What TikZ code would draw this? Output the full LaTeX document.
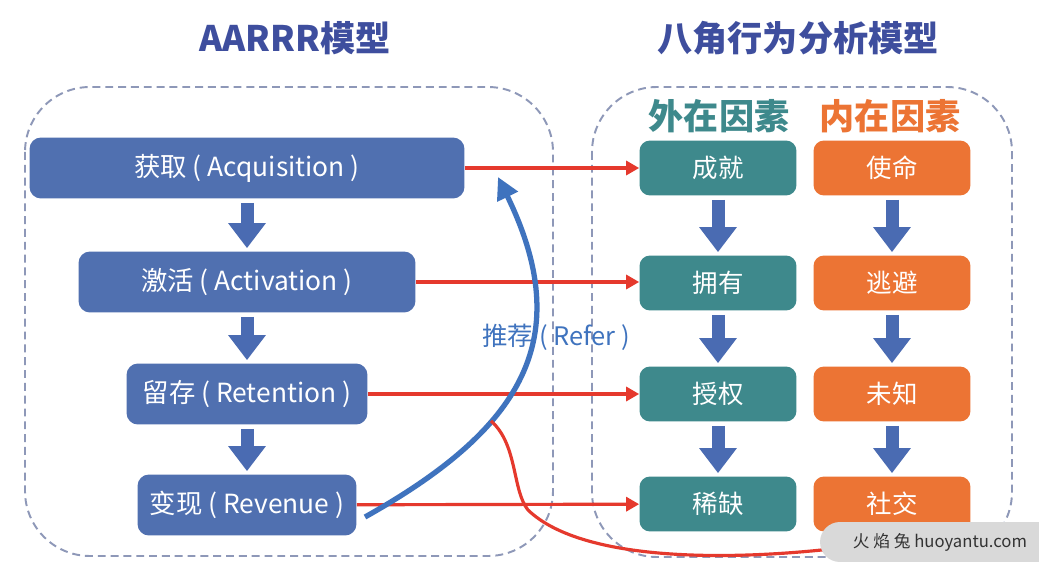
\documentclass[tikz,border=0pt]{standalone}
\usepackage{fontspec}
\setmainfont{Noto Sans CJK SC}
\usetikzlibrary{arrows.meta}
\definecolor{aablue}{HTML}{5070B0}
\definecolor{titleblue}{HTML}{3E4E9E}
\definecolor{extteal}{HTML}{3E898C}
\definecolor{intorange}{HTML}{EC7434}
\definecolor{flowblue}{HTML}{4A6BB2}
\definecolor{feedred}{HTML}{E5392D}
\definecolor{referblue}{HTML}{3F73BE}
\definecolor{framegray}{HTML}{8E98B8}
\tikzset{
  frame/.style={draw=framegray,line width=1.1pt,dash pattern=on 4.5pt off 2.8pt,rounded corners=1.3cm},
  title/.style={font=\fontsize{20}{24}\selectfont\bfseries,inner sep=0pt},
  aabox/.style={rectangle,rounded corners=6.5pt,fill=aablue,text=white,inner sep=0pt,minimum height=1.22cm,font=\fontsize{15}{18}\selectfont},
  factbox/.style={rectangle,rounded corners=6pt,text=white,inner sep=0pt,minimum width=3.14cm,minimum height=1.1cm,font=\fontsize{14.5}{17}\selectfont},
  extbox/.style={factbox,fill=extteal},
  intbox/.style={factbox,fill=intorange},
  flow/.style={draw=flowblue,line width=7.4pt,-{Triangle[width=0.72cm,length=0.5cm]},shorten <=0.08cm,shorten >=0.06cm},
  feed/.style={draw=feedred,line width=1.8pt,-{Triangle[width=0.28cm,length=0.26cm]}},
  redline/.style={draw=feedred,line width=1.8pt},
  refer/.style={draw=referblue,line width=3pt,-{Triangle[width=0.44cm,length=0.44cm]}},
  wmbox/.style={rectangle,rounded corners=0.4cm,fill=black!15,text=black!80,inner sep=0pt,minimum width=4.8cm,minimum height=0.8cm,font=\fontsize{9.5}{12}\selectfont},
}
\begin{document}
\begin{tikzpicture}[x=0.02cm,y=-0.02cm]
  \useasboundingbox (0,0) rectangle (1039,578);
  \fill[white] (0,0) rectangle (1039,578);
  \draw[frame] (25,87) rectangle (553,556);
  \draw[frame] (592,87) rectangle (1012,557);
  \node[title,text=titleblue] (aarrr) at (295,38) {AARRR模型};
  \node[title,text=titleblue] (octa) at (798,38) {八角行为分析模型};
  \node[title,text=extteal] (ext) at (719,116) {外在因素};
  \node[title,text=intorange] (int) at (890,116) {内在因素};
  \node[aabox,minimum width=8.7cm] (acq) at (247,168) {获取 ( Acquisition )};
  \node[aabox,minimum width=6.74cm] (act) at (247,282) {激活 ( Activation )};
  \node[aabox,minimum width=4.82cm] (ret) at (247,394) {留存 ( Retention )};
  \node[aabox,minimum width=4.38cm] (rev) at (247,505) {变现 ( Revenue )};
  \node[extbox] (ach) at (718,168) {成就};
  \node[extbox] (own) at (718,283) {拥有};
  \node[extbox] (emp) at (718,394) {授权};
  \node[extbox] (scar) at (718,504) {稀缺};
  \node[intbox] (mis) at (892,168) {使命};
  \node[intbox] (avoid) at (892,283) {逃避};
  \node[intbox] (unk) at (892,394) {未知};
  \node[intbox] (soc) at (892,504) {社交};
  \draw[flow] (acq) -- (act);
  \draw[flow] (act) -- (ret);
  \draw[flow] (ret) -- (rev);
  \draw[flow] (ach) -- (own);
  \draw[flow] (own) -- (emp);
  \draw[flow] (emp) -- (scar);
  \draw[flow] (mis) -- (avoid);
  \draw[flow] (avoid) -- (unk);
  \draw[flow] (unk) -- (soc);
  \draw[feed] (acq) -- (ach);
  \draw[feed] (act.east) -- (act.east -| own.west);
  \draw[feed] (ret) -- (emp);
  \draw[feed] (rev) -- (scar);
  \coordinate (rs) at (365,517);
  \coordinate (re) at (498,177);
  \coordinate (rend) at (840,548);
  \draw[refer] (rs) .. controls (522,429) and (577,339) .. (re) coordinate[pos=0.35] (branch);
  \node[text=referblue,font=\fontsize{14.5}{17}\selectfont,inner sep=0pt] (refer) at (556,337) {推荐 ( Refer )};
  \draw[redline] (branch) .. controls (518,445) and (512,490) .. (528,510) .. controls (580,560) and (720,562) .. (rend);
  \node[wmbox] (wm) at (940,542) {火 焰 兔 huoyantu.com};
\end{tikzpicture}
\end{document}
